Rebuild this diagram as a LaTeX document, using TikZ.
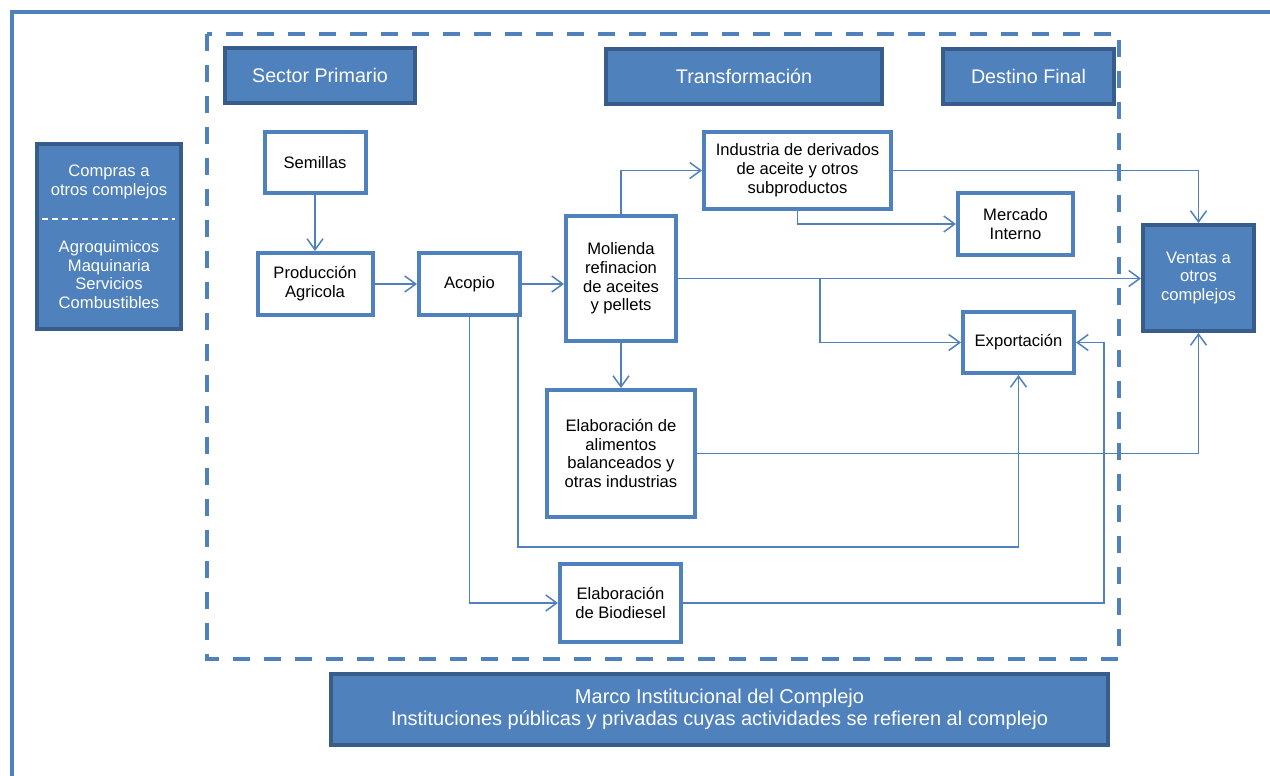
\documentclass[tikz,border=0pt]{standalone}
\usepackage{fontspec}
\setmainfont{Liberation Sans}
\usetikzlibrary{arrows.meta}
\definecolor{azul}{RGB}{79,129,189}
\definecolor{azulosc}{RGB}{56,93,138}

\begin{document}
\begin{tikzpicture}[x=0.5pt,y=-0.5pt,
  caja/.style={draw=azul,line width=2pt,fill=white,align=center,inner sep=0pt,font=\fontsize{8.3}{9.4}\selectfont},
  cajaazul/.style={draw=azulosc,line width=2pt,fill=azul,text=white,align=center,inner sep=0pt,font=\fontsize{8.3}{9.2}\selectfont},
  titulo/.style={cajaazul,font=\fontsize{9.85}{11}\selectfont},
  flujo/.style={draw=azul,line width=0.75pt,-{Straight Barb[length=5.5pt,width=8pt]}}]
\useasboundingbox (0,0) rectangle (1270,776);
\draw[azul,line width=2pt] (11.5,776) -- (11.5,11.5) -- (1270,11.5);
\draw[azul,line width=2pt,dash pattern=on 8.5pt off 7pt] (207,34) rectangle (1119,659);

\node[titulo,minimum width=95pt,minimum height=27.5pt] (sector) at (320,75.5) {Sector Primario};
\node[titulo,minimum width=138pt,minimum height=27.5pt] (trans) at (744,76.5) {Transformación};
\node[titulo,minimum width=85.5pt,minimum height=27.5pt] (destino) at (1028.5,76.5) {Destino Final};

\node[cajaazul,minimum width=72pt,minimum height=92.5pt] (compras) at (109,236.5) {};
\node[cajaazul,draw=none,fill=none] (comprasA) at (109,182) {Compras a\\otros complejos};
\node[cajaazul,draw=none,fill=none] (comprasB) at (109,274.5) {Agroquimicos\\Maquinaria\\Servicios\\Combustibles};
\draw[white,line width=0.6pt,dash pattern=on 3pt off 2pt] (42,219) -- (175,219);

\node[caja,minimum width=50.5pt,minimum height=30.5pt] (sem) at (315,162.5) {Semillas};
\node[caja,minimum width=57.5pt,minimum height=31pt] (prod) at (315,284) {Producción\\Agricola};
\node[caja,minimum width=50.5pt,minimum height=31pt] (acopio) at (469.5,284) {Acopio};
\node[caja,minimum width=55pt,minimum height=62.5pt] (mol) at (621,278.5) {Molienda\\refinacion\\de aceites\\y pellets};
\node[caja,minimum width=93.5pt,minimum height=38.5pt] (ind) at (797.5,170.5) {Industria de derivados\\de aceite y otros\\subproductos};
\node[caja,minimum width=57.5pt,minimum height=31pt] (merc) at (1015.5,224) {Mercado\\Interno};
\node[cajaazul,minimum width=55.5pt,minimum height=53pt] (ventas) at (1198.5,278) {Ventas a\\otros\\complejos};
\node[caja,minimum width=55.5pt,minimum height=30.5pt] (exp) at (1018.5,342.5) {Exportación};
\node[caja,minimum width=74pt,minimum height=63.5pt] (alim) at (621,453.5) {Elaboración de\\alimentos\\balanceados y\\otras industrias};
\node[caja,minimum width=60.5pt,minimum height=39pt] (bio) at (620.5,603) {Elaboración\\de Biodiesel};
\node[titulo,minimum width=388.5pt,minimum height=35.5pt,font=\fontsize{10}{11}\selectfont] (marco) at (719.5,709.5) {Marco Institucional del Complejo\\Instituciones públicas y privadas cuyas actividades se refieren al complejo};

\draw[flujo] (sem) -- (prod);
\draw[flujo] (prod) -- (acopio);
\draw[flujo] (acopio.east) -- (acopio.east -| mol.west);
\draw[flujo] (mol.north) |- (ind.west);
\draw[flujo] (ind.south) |- (merc.west);
\draw[flujo] (ind.east) -| (ventas.north);
\draw[flujo] (mol.east) -- (mol.east -| ventas.west);
\coordinate (rama) at (820,278.5);
\draw[flujo] (rama) |- (exp.west);
\draw[flujo] (mol.south) -- (alim.north);
\draw[flujo] (alim.east) -| (ventas.south);
\coordinate (bajo) at (700,547);
\draw[flujo] ([xshift=-2pt]acopio.south east) |- (bajo) -| (exp.south);
\draw[flujo] (acopio.south) |- (bio.west);
\draw[flujo] (bio.east) -| ([xshift=14pt]exp.east) -- (exp.east);
\end{tikzpicture}
\end{document}
